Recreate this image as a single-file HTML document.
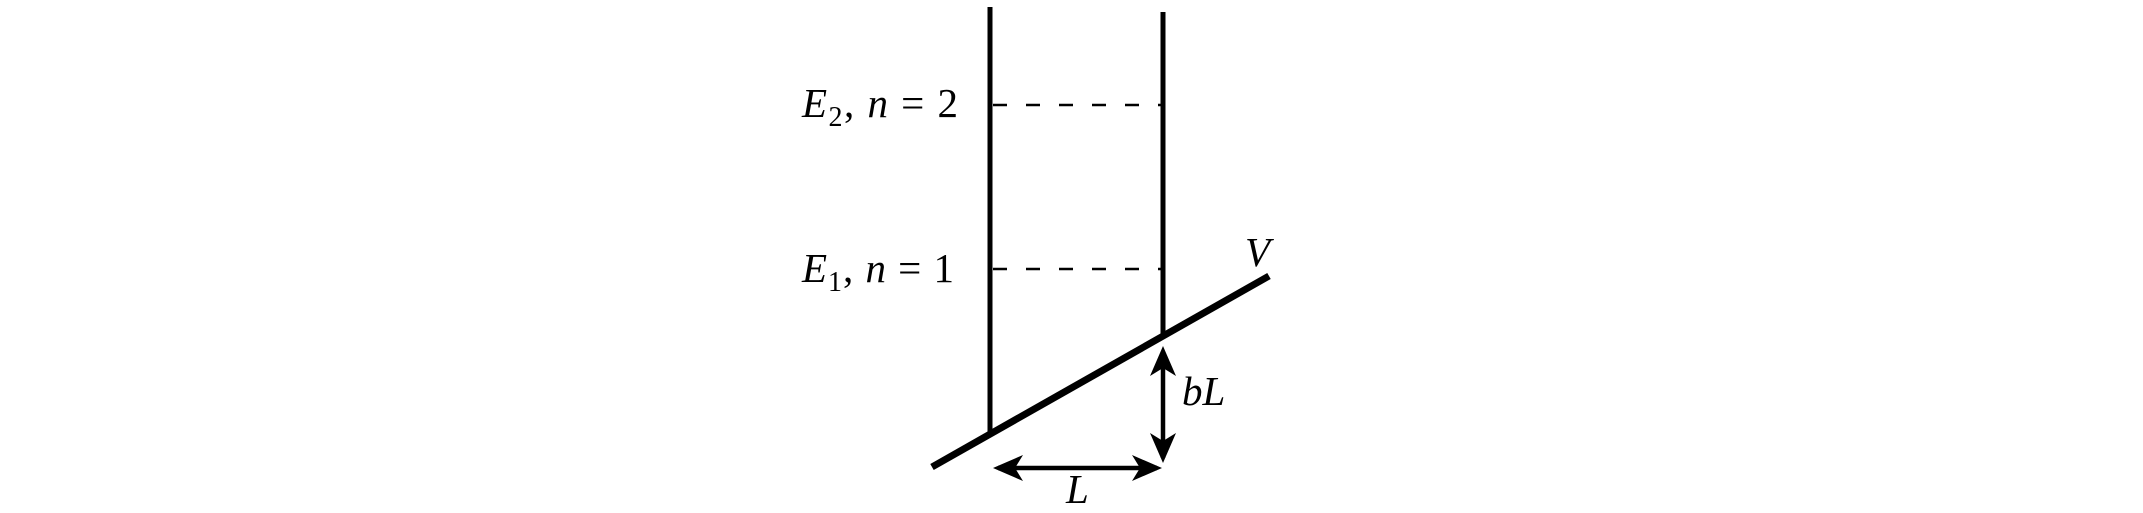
<!DOCTYPE html>
<html><head><meta charset="utf-8"><style>
html,body{margin:0;padding:0;background:#fff;}
svg{display:block;}
text{font-family:"Liberation Serif",serif;font-size:41px;fill:#000;}
.i{font-style:italic;}
</style></head><body>
<svg width="2143" height="513" viewBox="0 0 2143 513">
<line x1="990" y1="7" x2="990" y2="432" stroke="#000" stroke-width="5"/>
<line x1="1163" y1="12" x2="1163" y2="334" stroke="#000" stroke-width="5"/>
<line x1="993" y1="105" x2="1161" y2="105" stroke="#000" stroke-width="2.4" stroke-dasharray="14 19"/>
<line x1="993" y1="269" x2="1161" y2="269" stroke="#000" stroke-width="2.4" stroke-dasharray="14 19"/>
<line x1="932" y1="467" x2="1269" y2="276" stroke="#000" stroke-width="7"/>
<line x1="1163" y1="352" x2="1163" y2="458" stroke="#000" stroke-width="4.5"/>
<path d="M1163,346 L1150,376 L1163,368 L1176,376 Z M1163,463 L1150,433 L1163,441 L1176,433 Z" fill="#000"/>
<line x1="998" y1="468" x2="1157" y2="468" stroke="#000" stroke-width="4.5"/>
<path d="M993,468 L1023,455 L1015,468 L1023,481 Z M1162,468 L1132,455 L1140,468 L1132,481 Z" fill="#000"/>
<text x="802" y="117" textLength="156" lengthAdjust="spacing"><tspan class="i">E</tspan><tspan font-size="28" dy="9">2</tspan><tspan dy="-9">, </tspan><tspan class="i">n</tspan>  =  2</text>
<text x="802" y="282" textLength="152" lengthAdjust="spacing"><tspan class="i">E</tspan><tspan font-size="28" dy="9">1</tspan><tspan dy="-9">, </tspan><tspan class="i">n</tspan>  =  1</text>
<text class="i" x="1245" y="266">V</text>
<text class="i" x="1182" y="405">bL</text>
<text class="i" x="1066" y="503">L</text>
</svg>
</body></html>
